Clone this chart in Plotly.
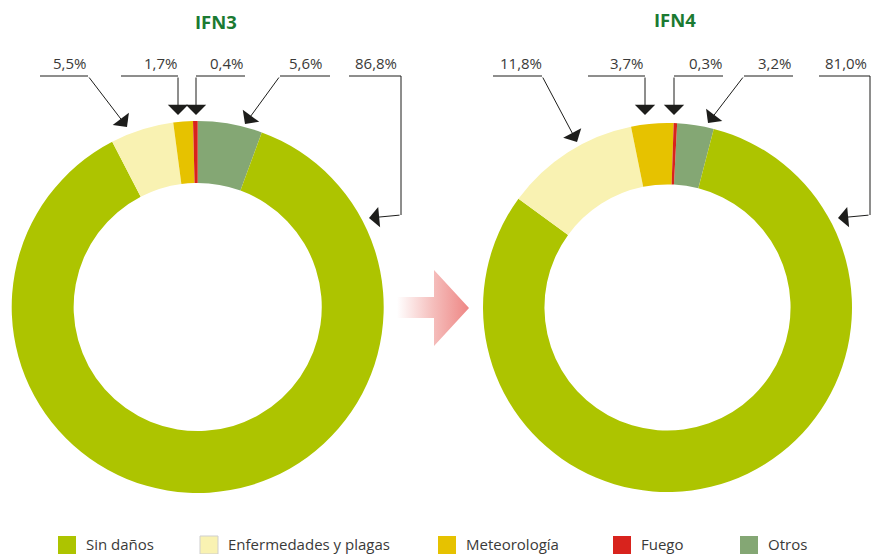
import plotly.graph_objects as go

# ---------------- data ----------------
categories = ["Sin daños", "Enfermedades y plagas", "Meteorología", "Fuego", "Otros"]
ifn3_values = [86.8, 5.5, 1.7, 0.4, 5.6]
ifn4_values = [81.0, 11.8, 3.7, 0.3, 3.2]
chart_titles = ["IFN3", "IFN4"]

# ---------------- style / layout ----------------
W, H = 872, 554
colors = {
    "Sin daños": "#ADC400",
    "Enfermedades y plagas": "#F9F2B2",
    "Meteorología": "#E6C200",
    "Fuego": "#D8231D",
    "Otros": "#84A774",
}
slice_order = ["Otros", "Sin daños", "Enfermedades y plagas", "Meteorología", "Fuego"]
label_order = ["Enfermedades y plagas", "Meteorología", "Fuego", "Otros", "Sin daños"]
TEXT = "#3a3a39"
ARROW = "#1d1d1b"
TITLE_COLOR = "#1b7a32"
FONT = "Open Sans"

# donut placement (pixel centre, radius), rotation
donuts = [
    dict(cx=197.7, cy=307.0, r=186.0, rot=0, title_xy=(215.5, 21.5)),
    dict(cx=667.5, cy=307.5, r=184.5, rot=3, title_xy=(675.0, 19.5)),
]
HOLE = 0.667

# leader geometry per donut, in label_order
leaders = [
    [
        dict(tx=69, u=(40, 88), pts=[(88, 76)], tip=(127, 127)),
        dict(tx=160, u=(121, 178), pts=[(178, 76)], tip=(178, 115)),
        dict(tx=226, u=(196, 245), pts=[(196, 76)], tip=(196, 115)),
        dict(tx=305, u=(280, 330), pts=[(280, 76)], tip=(245, 124)),
        dict(tx=376, u=(349, 401), pts=[(401, 76), (401, 215)], tip=(369, 218)),
    ],
    [
        dict(tx=521, u=(493, 542), pts=[(542, 76)], tip=(577, 142)),
        dict(tx=626, u=(588, 645), pts=[(645, 76)], tip=(645, 115)),
        dict(tx=705, u=(674, 723), pts=[(674, 76)], tip=(674, 115)),
        dict(tx=774, u=(744, 793), pts=[(744, 76)], tip=(708, 123)),
        dict(tx=846, u=(819, 870), pts=[(870, 76), (870, 215)], tip=(838, 218)),
    ],
]
LABEL_Y = 62.5
UNDER_Y = 76

# legend layout (pixel)
legend_sq_x = [58, 200, 438, 613, 740]
legend_y0, legend_sq = 536, 18
legend_text_y = 544

fig = go.Figure()

def fmt(v):
    return f"{v:.1f}".replace(".", ",") + "%"

for d, vals in zip(donuts, [ifn3_values, ifn4_values]):
    vmap = dict(zip(categories, vals))
    x0 = (d["cx"] - d["r"]) / W
    x1 = (d["cx"] + d["r"]) / W
    y0 = (H - d["cy"] - d["r"]) / H
    y1 = (H - d["cy"] + d["r"]) / H
    fig.add_trace(go.Pie(
        labels=slice_order,
        values=[vmap[c] for c in slice_order],
        marker=dict(colors=[colors[c] for c in slice_order], line=dict(width=0)),
        hole=HOLE, sort=False, direction="clockwise", rotation=d["rot"],
        textinfo="none", showlegend=False,
        domain=dict(x=[x0, x1], y=[y0, y1]),
    ))

# gradient arrow between the charts
arrow_x = [397, 434, 434, 469, 434, 434, 397, 397]
arrow_y = [297, 297, 270, 308, 346, 318, 318, 297]
fig.add_trace(go.Scatter(
    x=arrow_x, y=arrow_y, mode="lines", line=dict(width=0),
    fill="toself", hoverinfo="skip", showlegend=False,
    fillgradient=dict(type="horizontal", start=397, stop=469,
                      colorscale=[[0, "rgba(255,255,255,1)"], [0.5, "#F5BEBC"], [1, "#EE8684"]]),
))

shapes, annotations = [], []
for d, vals, lds in zip(donuts, [ifn3_values, ifn4_values], leaders):
    vmap = dict(zip(categories, vals))
    for cat, ld in zip(label_order, lds):
        annotations.append(dict(
            x=ld["tx"], y=LABEL_Y, xref="x", yref="y", text=fmt(vmap[cat]),
            showarrow=False, font=dict(family=FONT, size=15, color=TEXT),
            xanchor="center", yanchor="middle"))
        pts = [(ld["u"][0], UNDER_Y), (ld["u"][1], UNDER_Y)]
        path = f"M{pts[0][0]},{pts[0][1]} L{pts[1][0]},{pts[1][1]}"
        if len(ld["pts"]) > 1:
            for (px, py) in ld["pts"]:
                path += f" L{px},{py}"
        shapes.append(dict(type="path", path=path, xref="x", yref="y",
                           line=dict(color=ARROW, width=1)))
        sx, sy = ld["pts"][-1]
        annotations.append(dict(
            x=ld["tip"][0], y=ld["tip"][1], xref="x", yref="y",
            ax=sx, ay=sy, axref="x", ayref="y", text="",
            showarrow=True, arrowhead=1, arrowsize=3.4, arrowwidth=1,
            arrowcolor=ARROW, standoff=0))
for d, t in zip(donuts, chart_titles):
    annotations.append(dict(
        x=d["title_xy"][0], y=d["title_xy"][1], xref="x", yref="y",
        text=f"<b>{t}</b>", showarrow=False,
        font=dict(family=FONT, size=18.5, color=TITLE_COLOR),
        xanchor="center", yanchor="middle"))

# legend
for cat, lx in zip(categories, legend_sq_x):
    is_pale = cat == "Enfermedades y plagas"
    shapes.append(dict(type="rect", xref="x", yref="y",
                       x0=lx, x1=lx + legend_sq, y0=legend_y0, y1=legend_y0 + legend_sq,
                       fillcolor=colors[cat],
                       line=dict(color="#cfcfcf" if is_pale else colors[cat],
                                 width=1 if is_pale else 0)))
    annotations.append(dict(
        x=lx + legend_sq + 8, y=legend_text_y, xref="x", yref="y", text=cat,
        showarrow=False, font=dict(family=FONT, size=15, color=TEXT),
        xanchor="left", yanchor="middle"))

fig.update_layout(
    width=W, height=H, margin=dict(l=0, r=0, t=0, b=0, pad=0),
    paper_bgcolor="white", plot_bgcolor="rgba(0,0,0,0)",
    xaxis=dict(range=[0, W], visible=False, fixedrange=True, domain=[0, 1]),
    yaxis=dict(range=[H, 0], visible=False, fixedrange=True, domain=[0, 1]),
    shapes=shapes, annotations=annotations, showlegend=False,
)

fig.write_html("out.html", config={"displayModeBar": False},
               post_script="document.body.style.margin='0px';")
